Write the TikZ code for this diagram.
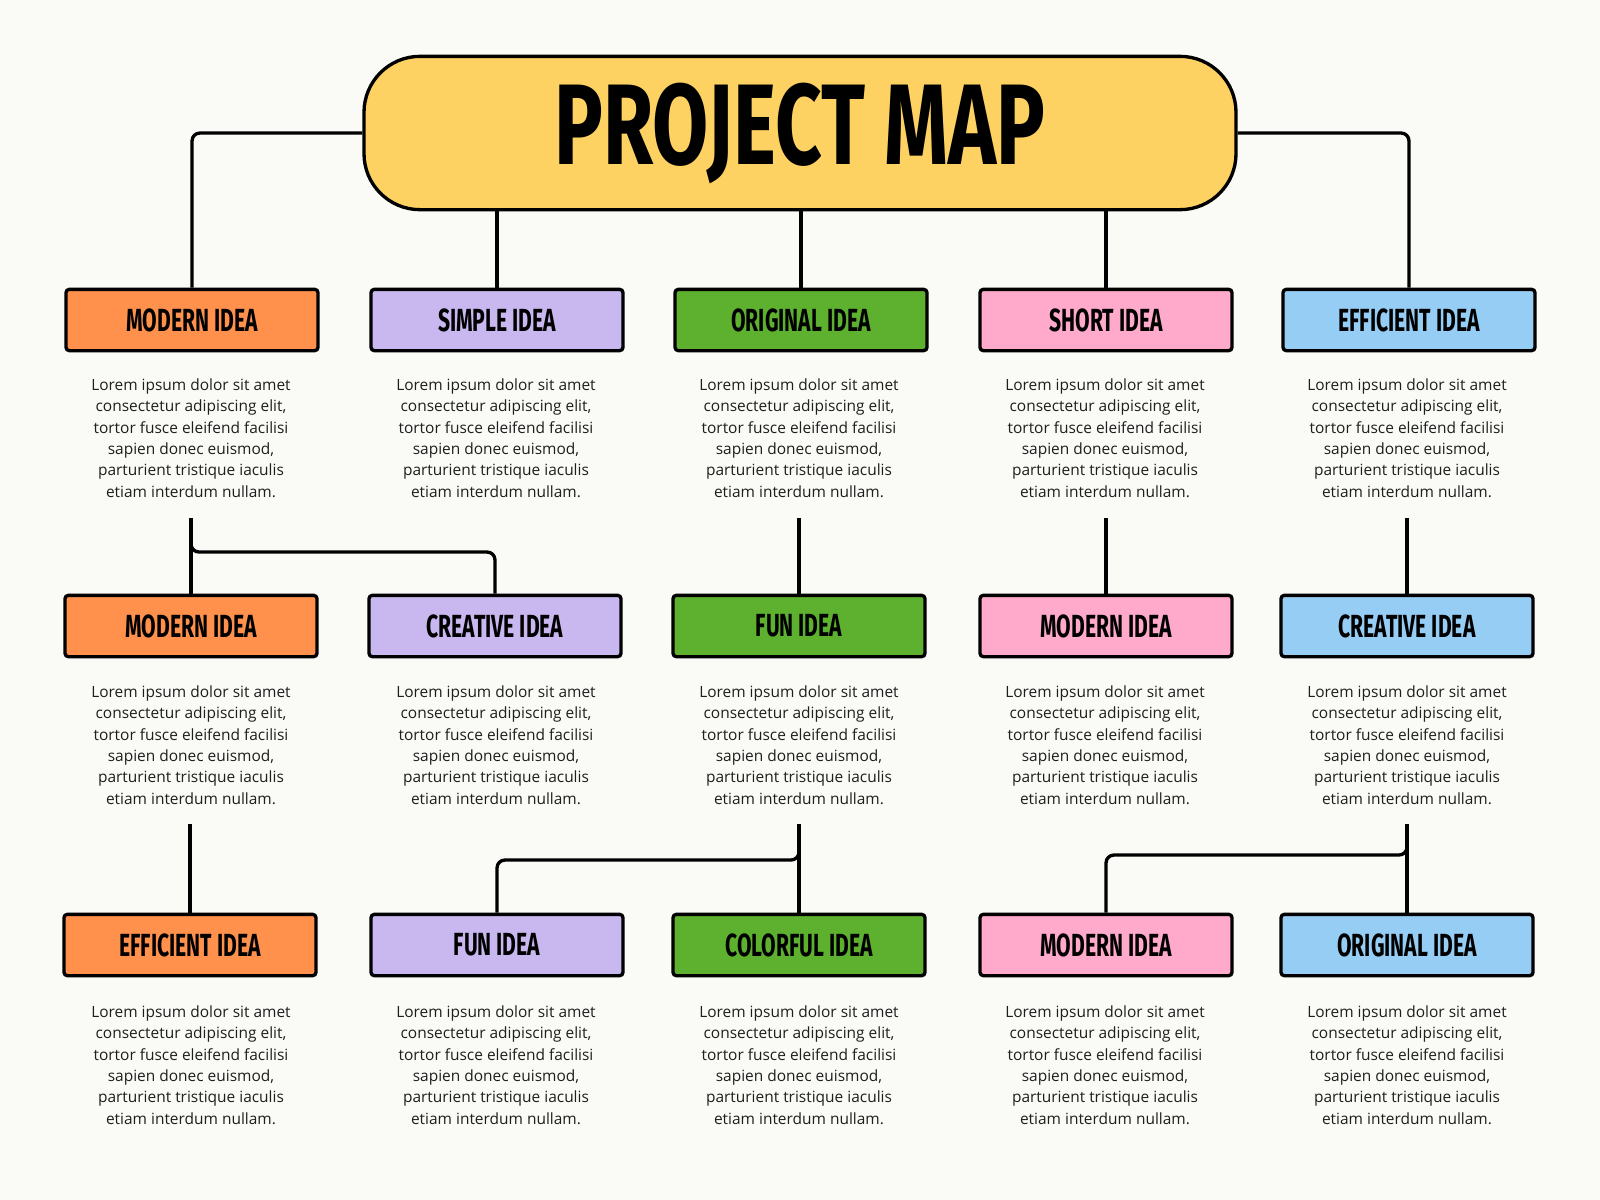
\documentclass[tikz,border=0pt]{standalone}
\usepackage{fontspec}
\setmainfont{Open Sans}
\newfontfamily\labelfont{Fira Sans}[UprightFont={* Bold}, FakeStretch=0.66]
\newfontfamily\titlefont{Fira Sans}[UprightFont={* Bold}, FakeStretch=0.71]
\usetikzlibrary{calc}
\definecolor{bgc}{HTML}{FAFAF6}
\definecolor{yel}{HTML}{FDD262}
\definecolor{ora}{HTML}{FF914D}
\definecolor{pur}{HTML}{C9B7F0}
\definecolor{gre}{HTML}{5DB12F}
\definecolor{pnk}{HTML}{FFA9CB}
\definecolor{blu}{HTML}{96CDF4}
\definecolor{txt}{HTML}{1E1E1E}
\tikzset{
  ideabox/.style={draw=black, line width=2.5pt, rounded corners=2.5pt,
    minimum width=189pt, minimum height=46pt, inner sep=0pt,
    font=\labelfont\fontsize{24}{24}\selectfont, text=black},
  bodytext/.style={align=center, font=\fontsize{11.6}{16}\selectfont, text=txt, inner sep=0pt},
  conn/.style={draw=black, line width=2.5pt, rounded corners=6pt},
}
\newcommand{\lorem}{Lorem ipsum dolor sit amet\\consectetur adipiscing elit,\\tortor fusce eleifend facilisi\\sapien donec euismod,\\parturient tristique iaculis\\etiam interdum nullam.}
\begin{document}
\begin{tikzpicture}[x=0.75pt, y=-0.75pt]
\fill[bgc] (0,0) rectangle (1600,1200);
\useasboundingbox (0,0) rectangle (1600,1200);

\node[draw=black, fill=yel, line width=2.5pt, rounded corners=42pt,
  minimum width=654pt, minimum height=115pt, inner sep=0pt,
  font=\titlefont\fontsize{86}{86}\selectfont] (title) at (800,133) {PROJECT MAP};

% row 1
\node[ideabox, fill=ora] (b11) at (192,320) {MODERN IDEA};
\node[ideabox, fill=pur] (b12) at (497,320) {SIMPLE IDEA};
\node[ideabox, fill=gre] (b13) at (801,320) {ORIGINAL IDEA};
\node[ideabox, fill=pnk] (b14) at (1106,320) {SHORT IDEA};
\node[ideabox, fill=blu] (b15) at (1409,320) {EFFICIENT IDEA};
% row 2
\node[ideabox, fill=ora] (b21) at (191,626) {MODERN IDEA};
\node[ideabox, fill=pur] (b22) at (495,626) {CREATIVE IDEA};
\node[ideabox, fill=gre] (b23) at (799,626) {FUN IDEA};
\node[ideabox, fill=pnk] (b24) at (1106,626) {MODERN IDEA};
\node[ideabox, fill=blu] (b25) at (1407,626) {CREATIVE IDEA};
% row 3
\node[ideabox, fill=ora] (b31) at (190,945) {EFFICIENT IDEA};
\node[ideabox, fill=pur] (b32) at (497,945) {FUN IDEA};
\node[ideabox, fill=gre] (b33) at (799,945) {COLORFUL IDEA};
\node[ideabox, fill=pnk] (b34) at (1106,945) {MODERN IDEA};
\node[ideabox, fill=blu] (b35) at (1407,945) {ORIGINAL IDEA};

% texts
\foreach \r/\y in {1/438, 2/745, 3/1065}{
  \foreach \c/\x in {1/191, 2/496, 3/799, 4/1105, 5/1407}{
    \node[bodytext] (t\r\c) at (\x,\y) {\lorem};
  }
}

% connectors from title
\draw[conn] (title.west) -| (b11.north);
\draw[conn] (title.east) -| (b15.north);
\draw[conn] (title.south -| b12.north) -- (b12.north);
\draw[conn] (title.south -| b13.north) -- (b13.north);
\draw[conn] (title.south -| b14.north) -- (b14.north);

% row1 -> row2
\coordinate (j1) at (191,518);
\coordinate (h1) at (495,552);
\draw[conn] (j1) -- (b21.north);
\draw[conn] (j1) |- (h1) -- (b22.north);
\coordinate (j13) at (799,518);
\draw[conn] (j13) -- (b23.north);
\coordinate (j14) at (1106,518);
\draw[conn] (j14) -- (b24.north);
\coordinate (j15) at (1407,518);
\draw[conn] (j15) -- (b25.north);

% row2 -> row3
\coordinate (j21) at (190,824);
\draw[conn] (j21) -- (b31.north);
\coordinate (j3) at (799,824);
\coordinate (h3) at (497,860);
\draw[conn] (j3) -- (b33.north);
\draw[conn] (j3) |- (h3) -- (b32.north);
\coordinate (j5) at (1407,824);
\coordinate (h5) at (1106,855);
\draw[conn] (j5) -- (b35.north);
\draw[conn] (j5) |- (h5) -- (b34.north);
\end{tikzpicture}
\end{document}
